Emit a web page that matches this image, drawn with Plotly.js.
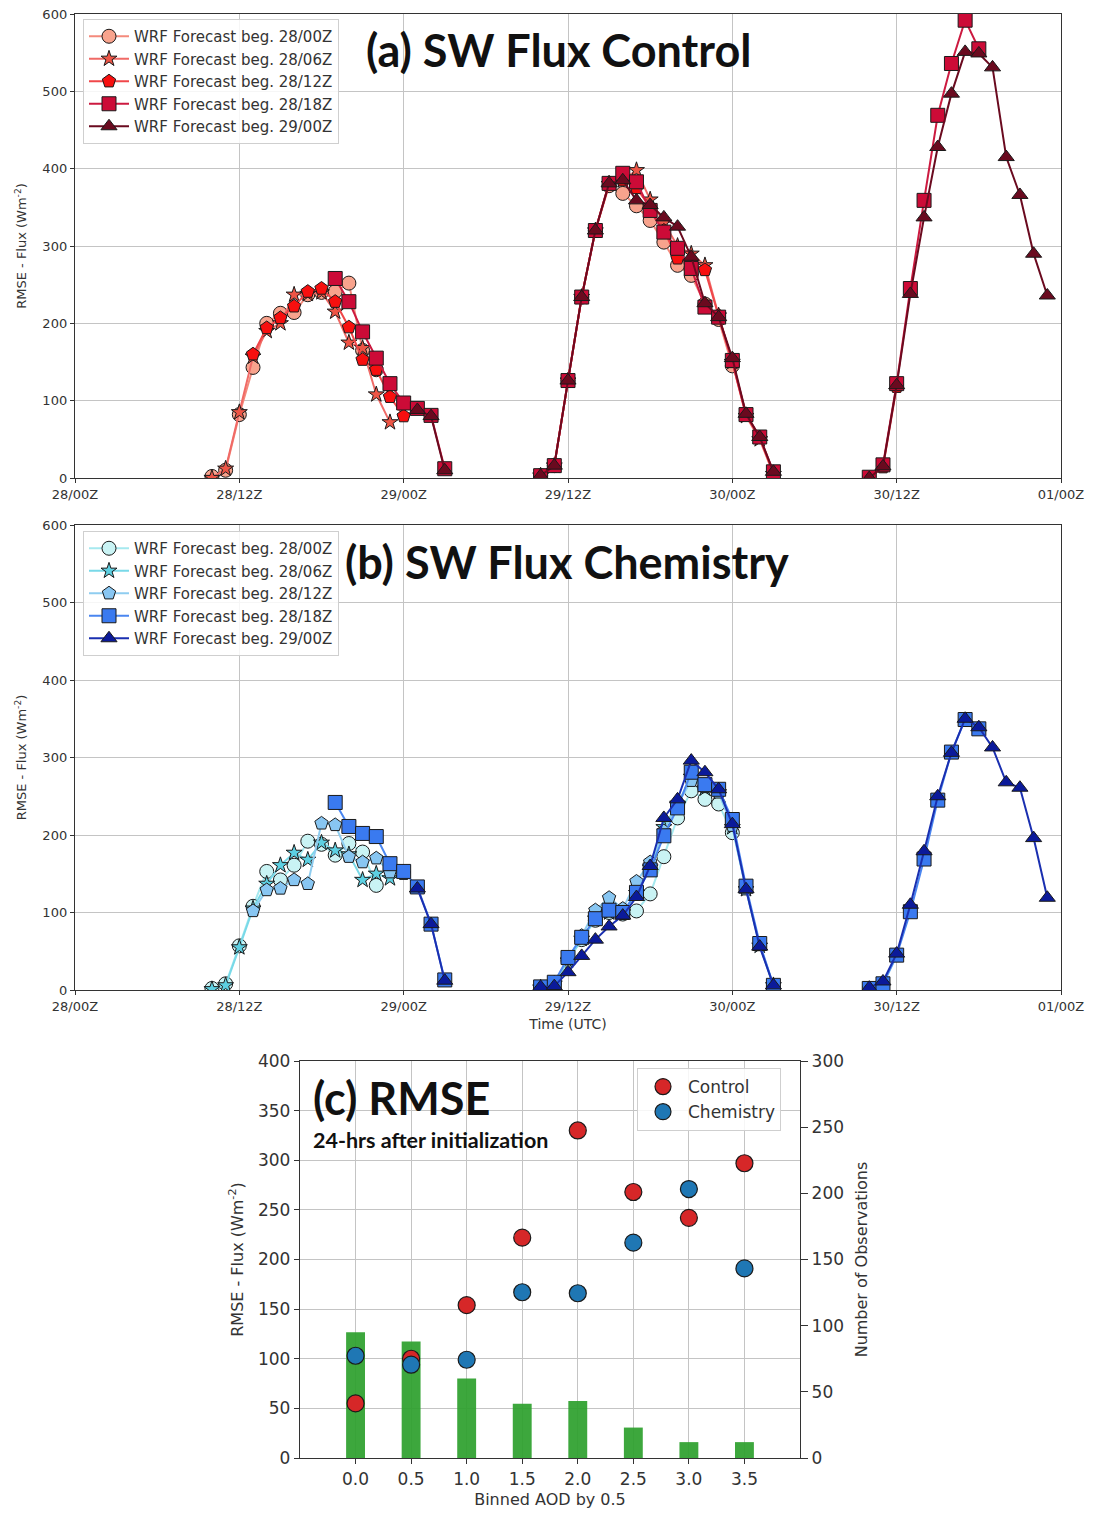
<!DOCTYPE html>
<html><head><meta charset="utf-8">
<script src="https://cdn.plot.ly/plotly-3.0.1.min.js"></script>
<style>html,body{margin:0;padding:0;background:#fff}#chart{width:1094px;height:1513px}</style>
</head><body><div id="chart"></div>
<script>
// Hours since 28/00Z for each forecast run (daylight hours only)
const hours2800 = [10,11,12,13,14,15,16,17,18,19,20,21,22, 34,35,36,37,38,39,40,41,42,43,44,45,46,47,48];
const hours2806 = [10,11,12,13,14,15,16,17,18,19,20,21,22,23, 34,35,36,37,38,39,40,41,42,43,44,45,46,47,48,49,50,51];
const hours2812 = [13,14,15,16,17,18,19,20,21,22,23,24, 34,35,36,37,38,39,40,41,42,43,44,45,46,47,48,49,50,51, 58,59,60];
const hours2818 = [19,20,21,22,23,24,25,26,27, 34,35,36,37,38,39,40,41,42,43,44,45,46,47,48,49,50,51, 58,59,60,61,62,63,64,65,66];
const hours2900 = [25,26,27, 34,35,36,37,38,39,40,41,42,43,44,45,46,47,48,49,50,51, 58,59,60,61,62,63,64,65,66,67,68,69,70,71];

// (a) Control run RMSE (W m-2)
const ctrl2800 = [2,10,82,143,200,213,214,237,240,241,252,165,140, 3,16,126,234,320,378,368,352,333,305,275,262,225,205,145];
const ctrl2806 = [0,12,85,157,190,200,237,238,240,215,175,168,108,72, 3,16,126,234,320,380,385,398,360,330,300,290,275,210,150,80,50,5];
const ctrl2812 = [160,194,207,222,241,245,228,195,153,140,105,80, 3,16,126,234,320,382,385,375,350,320,284,278,269,210,150,82,52,6, 0,14,118];
const ctrl2818 = [258,228,189,155,122,97,90,81,12, 3,16,126,234,320,381,394,383,346,318,297,271,221,208,152,82,53,8, 1,17,122,245,359,469,536,592,555];
const ctrl2900 = [88,80,10, 3,16,126,234,320,381,385,359,353,337,325,286,226,208,155,83,53,8, 0,15,120,238,337,428,497,551,549,531,415,366,290,236];

// (b) Chemistry run RMSE (W m-2)
const chem2800 = [2,8,57,108,153,142,161,192,188,174,189,178,135, 3,8,38,65,90,100,98,102,124,172,222,257,246,240,203];
const chem2806 = [1,6,55,105,137,161,177,168,190,180,175,142,150,144, 3,8,38,66,92,100,100,125,158,210,240,275,260,255,210,130,57,6];
const chem2812 = [102,129,131,142,137,215,213,172,165,170,152,150, 3,9,40,70,103,119,105,140,165,205,240,270,262,255,212,130,58,6, 2,7,44];
const chem2818 = [242,211,202,198,163,153,133,85,13, 4,10,42,68,92,103,100,126,155,199,235,281,265,259,220,134,60,6, 2,8,45,101,169,245,307,349,337];
const chem2900 = [131,85,12, 4,5,23,44,65,82,96,120,160,222,246,296,281,259,214,130,56,6, 3,11,47,110,179,250,306,350,339,313,268,261,196,119];

const runLabels = ['WRF Forecast beg. 28/00Z','WRF Forecast beg. 28/06Z','WRF Forecast beg. 28/12Z','WRF Forecast beg. 28/18Z','WRF Forecast beg. 29/00Z'];
const timeTickVals = [0,12,24,36,48,60,72];
const timeTickText = ['28/00Z','28/12Z','29/00Z','29/12Z','30/00Z','30/12Z','01/00Z'];

// (c) RMSE 24 h after initialization, binned by AOD
const aodBins = [0.0,0.5,1.0,1.5,2.0,2.5,3.0,3.5];
const aodTickText = ['0.0','0.5','1.0','1.5','2.0','2.5','3.0','3.5'];
const rmseControl = [55,100,154,222,330,268,242,297];
const rmseChemistry = [103,94,99,167,166,217,271,191];
const obsCount = [95,88,60,41,43,23,12,12];

const symbols = ['circle','star','pentagon','square','triangle-up'];
const markerSizes = [14,12,14,14,14];
const redFill = ['#f8a38d','#ee5546','#f70f0f','#cc0b37','#6a0a1f'];
const redLine = ['#f48a7c','#f06a66','#f0474a','#cc1a40','#6a0a1f'];
const blueFill = ['#c9f3f4','#5dd0e2','#88c6f2','#3a7af0','#0b1a9a'];
const blueLine = ['#a6e9ef','#79d9e8','#8fcdf0','#4a86f0','#1a2fb0'];

// insert breaks between separate daylight periods
function withGaps(hrs, vals) {
  const x = [], y = [];
  for (let i = 0; i < hrs.length; i++) {
    if (i > 0 && hrs[i] - hrs[i-1] > 1) { x.push(null); y.push(null); }
    x.push(hrs[i]); y.push(vals[i]);
  }
  return {x, y};
}

const hourSets = [hours2800, hours2806, hours2812, hours2818, hours2900];
const ctrlSets = [ctrl2800, ctrl2806, ctrl2812, ctrl2818, ctrl2900];
const chemSets = [chem2800, chem2806, chem2812, chem2818, chem2900];

const traces = [];
for (let k = 0; k < 5; k++) {
  const a = withGaps(hourSets[k], ctrlSets[k]);
  traces.push({
    type:'scatter', mode:'lines+markers', x:a.x, y:a.y, xaxis:'x', yaxis:'y',
    name: runLabels[k], legend:'legend', connectgaps:false,
    line:{color:redLine[k], width:2},
    marker:{symbol:symbols[k], size:markerSizes[k], color:redFill[k], line:{color:'#1a1a1a', width:1}}
  });
}
for (let k = 0; k < 5; k++) {
  const b = withGaps(hourSets[k], chemSets[k]);
  traces.push({
    type:'scatter', mode:'lines+markers', x:b.x, y:b.y, xaxis:'x2', yaxis:'y2',
    name: runLabels[k], legend:'legend2', connectgaps:false,
    line:{color:blueLine[k], width:2},
    marker:{symbol:symbols[k], size:markerSizes[k], color:blueFill[k], line:{color:'#1a1a1a', width:1}}
  });
}
traces.push({
  type:'bar', x:aodBins, y:obsCount, xaxis:'x3', yaxis:'y3', width:0.17,
  marker:{color:'#2ca02c', opacity:0.92}, showlegend:false, hoverinfo:'y'
});
traces.push({
  type:'scatter', mode:'markers', x:aodBins, y:rmseControl, xaxis:'x3', yaxis:'y4',
  name:'Control', legend:'legend3',
  marker:{color:'#d62728', size:17, line:{color:'#1a1a1a', width:1.2}}
});
traces.push({
  type:'scatter', mode:'markers', x:aodBins, y:rmseChemistry, xaxis:'x3', yaxis:'y4',
  name:'Chemistry', legend:'legend3',
  marker:{color:'#1f77b4', size:17, line:{color:'#1a1a1a', width:1.2}}
});

const W = 1094, H = 1513;
const fx = p => p / W;
const fy = p => (H - p) / H;
const tickFont = {family:'DejaVu Sans', size:13, color:'#333'};
const gridColor = '#c4c4c4';

function timeAxis(dom, anchor) {
  return {domain:dom, anchor:anchor, range:[0,72], tickvals:timeTickVals, ticktext:timeTickText,
    showgrid:true, gridcolor:gridColor, gridwidth:1, zeroline:false,
    showline:true, mirror:true, linecolor:'#333', linewidth:1.2,
    ticks:'outside', ticklen:4, tickcolor:'#333', tickfont:tickFont};
}
function fluxAxis(dom, anchor) {
  return {domain:dom, anchor:anchor, range:[0,600], tickvals:[0,100,200,300,400,500,600],
    showgrid:true, gridcolor:gridColor, gridwidth:1, zeroline:false,
    showline:true, mirror:true, linecolor:'#333', linewidth:1.2,
    ticks:'outside', ticklen:4, tickcolor:'#333', tickfont:tickFont,
    title:{text:'RMSE - Flux (Wm<sup>-2</sup>)', font:{family:'DejaVu Sans', size:13, color:'#333'}, standoff:12}};
}

const legendBase = {bgcolor:'rgba(255,255,255,0.85)', bordercolor:'#cfcfcf', borderwidth:1,
  font:{family:'DejaVu Sans', size:15, color:'#333'}, xanchor:'left', yanchor:'top', tracegroupgap:0, itemwidth:40};

const layout = {
  width:W, height:H, margin:{l:0,r:0,t:0,b:0},
  paper_bgcolor:'#fff', plot_bgcolor:'#fff', showlegend:true,
  xaxis: timeAxis([fx(75), fx(1061)], 'y'),
  yaxis: fluxAxis([fy(478), fy(14)], 'x'),
  xaxis2: Object.assign(timeAxis([fx(75), fx(1061)], 'y2'),
    {title:{text:'Time (UTC)', font:{family:'DejaVu Sans', size:14, color:'#333'}, standoff:6}}),
  yaxis2: fluxAxis([fy(990), fy(525)], 'x2'),
  xaxis3: {domain:[fx(300), fx(800)], anchor:'y3', range:[-0.5,4.0], tickvals:aodBins, ticktext:aodTickText,
    showgrid:true, gridcolor:gridColor, zeroline:false, showline:true, mirror:true, linecolor:'#333', linewidth:1.2,
    ticks:'outside', ticklen:5, tickcolor:'#333', tickfont:{family:'DejaVu Sans', size:17, color:'#333'},
    title:{text:'Binned AOD by 0.5', font:{family:'DejaVu Sans', size:16, color:'#333'}, standoff:6}},
  yaxis3: {domain:[fy(1458), fy(1061)], anchor:'x3', side:'right', range:[0,300], tickvals:[0,50,100,150,200,250,300],
    showgrid:false, zeroline:false, showline:true, linecolor:'#333', linewidth:1.2,
    ticks:'outside', ticklen:7, tickcolor:'#333', tickfont:{family:'DejaVu Sans', size:17, color:'#333'},
    title:{text:'Number of Observations', font:{family:'DejaVu Sans', size:16, color:'#333'}, standoff:12}},
  yaxis4: {domain:[fy(1458), fy(1061)], anchor:'x3', overlaying:'y3', side:'left', range:[0,400],
    tickvals:[0,50,100,150,200,250,300,350,400],
    showgrid:true, gridcolor:gridColor, zeroline:false, showline:true, linecolor:'#333', linewidth:1.2,
    ticks:'outside', ticklen:5, tickcolor:'#333', tickfont:{family:'DejaVu Sans', size:17, color:'#333'},
    title:{text:'RMSE - Flux (Wm<sup>-2</sup>)', font:{family:'DejaVu Sans', size:16, color:'#333'}, standoff:10}},
  legend: Object.assign({}, legendBase, {x:fx(83), y:fy(19)}),
  legend2: Object.assign({}, legendBase, {x:fx(83), y:fy(531)}),
  legend3: Object.assign({}, legendBase, {x:fx(637), y:fy(1068), font:{family:'DejaVu Sans', size:17, color:'#333'}}),
  annotations: [
    {xref:'paper', yref:'paper', x:fx(364), y:fy(50), xanchor:'left', yanchor:'middle', showarrow:false,
     text:'<b>(a) SW Flux Control</b>', font:{family:'Lato', size:45, color:'#111'}},
    {xref:'paper', yref:'paper', x:fx(343), y:fy(562), xanchor:'left', yanchor:'middle', showarrow:false,
     text:'<b>(b) SW Flux Chemistry</b>', font:{family:'Lato', size:45, color:'#111'}},
    {xref:'paper', yref:'paper', x:fx(311), y:fy(1098), xanchor:'left', yanchor:'middle', showarrow:false,
     text:'<b>(c) RMSE</b>', font:{family:'Lato', size:45, color:'#111'}},
    {xref:'paper', yref:'paper', x:fx(311), y:fy(1140), xanchor:'left', yanchor:'middle', showarrow:false,
     text:'<b>24-hrs after initialization</b>', font:{family:'Lato', size:21.5, color:'#111'}}
  ]
};

Plotly.newPlot('chart', traces, layout, {displayModeBar:false, staticPlot:true});
</script></body></html>
